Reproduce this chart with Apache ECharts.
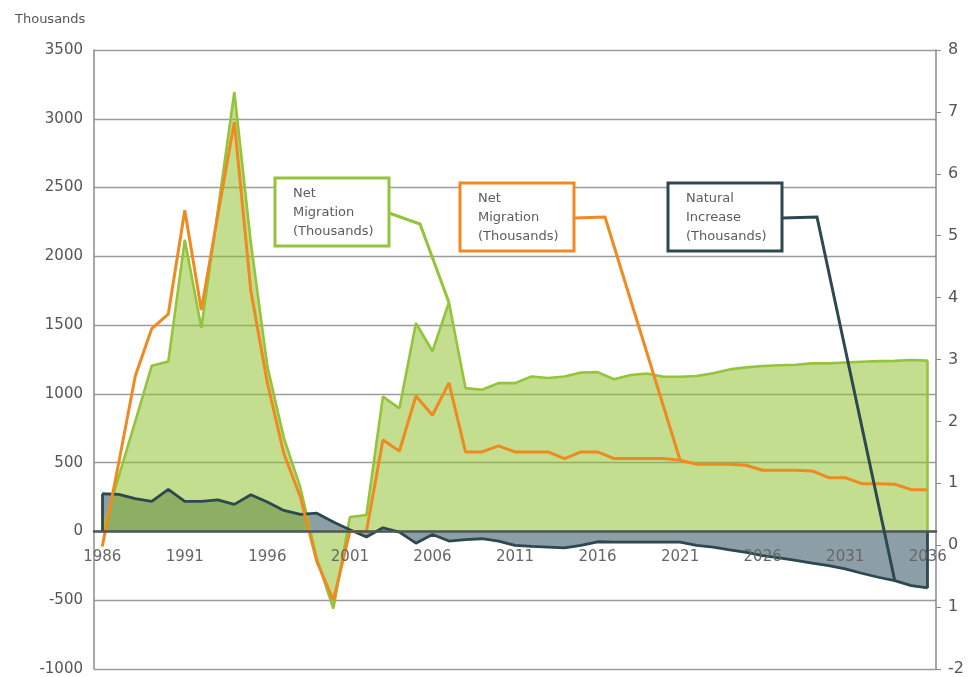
<!DOCTYPE html>
<html>
<head>
<meta charset="utf-8">
<script src="https://cdn.jsdelivr.net/npm/echarts@6/dist/echarts.min.js"></script>
<style>
  html, body { margin: 0; padding: 0; background: #fff; }
  #main { width: 969px; height: 677px; }
</style>
</head>
<body>
<div id="main"></div>
<script>
// years along the x axis
var years = [];
for (var y = 1986; y <= 2036; y++) years.push(String(y));

// net migration, thousands (green area)
var netMigrationArea = [
  0, 400, 800, 1205, 1235, 2120, 1480, 2330, 3195, 2100,
  1200, 680, 320, -200, -560, 105, 120, 980, 895, 1515,
  1310, 1665, 1042, 1030, 1078, 1078, 1127, 1115, 1127, 1155,
  1158, 1106, 1137, 1148, 1125, 1125, 1130, 1150, 1178, 1193,
  1203, 1208, 1212, 1222, 1222, 1228, 1234, 1238, 1240, 1246,
  1242
];

// net migration, thousands (orange line)
var netMigrationLine = [
  -110, 500, 1130, 1475, 1580, 2335, 1610, 2300, 2975, 1750,
  1080, 565, 250, -220, -500, 0, 0, 665, 585, 985,
  845, 1080, 578, 578, 622, 578, 578, 578, 530, 578,
  578, 530, 530, 530, 530, 518, 488, 488, 488, 481,
  445, 445, 445, 440, 391, 391, 347, 347, 343, 304,
  304
];

// natural increase, thousands (dark area)
var naturalIncrease = [
  274, 269, 238, 218, 306, 218, 218, 230, 197, 267,
  214, 153, 124, 133, 68, 12, -41, 27, -5, -85,
  -22, -70, -60, -53, -70, -102, -109, -114, -119, -102,
  -75, -78, -78, -78, -78, -78, -102, -114, -134, -153,
  -175, -192, -211, -231, -248, -272, -304, -333, -357, -394,
  -411
];

var GREEN = '#93c43a', ORANGE = '#ef8a22', DARK = '#2e4850';
var FONT = 'DejaVu Sans';
var GRID_TOP = 50, GRID_H = 619;
var LEFT_MIN = -1000, LEFT_MAX = 3500;

var chart = echarts.init(document.getElementById('main'));
var last = years.length - 1;

// x axis sits on the zero line of the left axis
var zeroOffset = -GRID_H * (0 - LEFT_MIN) / (LEFT_MAX - LEFT_MIN);

var option = {
  animation: false,
  backgroundColor: '#fff',
  title: {
    text: 'Thousands', left: 10, top: 8,
    textStyle: { fontFamily: FONT, fontSize: 13, fontWeight: 'normal', color: '#555' }
  },
  grid: { left: 94, right: 33, top: GRID_TOP, height: GRID_H, outerBoundsMode: 'none' },
  xAxis: {
    type: 'category', data: years, boundaryGap: true,
    offset: zeroOffset,
    axisLine: { onZero: false, lineStyle: { color: '#4e5858', width: 2.5 } },
    axisTick: { show: false },
    axisLabel: { interval: 4, margin: 18, color: '#666', fontFamily: FONT, fontSize: 15 },
    splitLine: { show: false },
    z: 5
  },
  yAxis: [{
    type: 'value', min: LEFT_MIN, max: LEFT_MAX, interval: 500,
    axisLine: { show: true, onZero: false, lineStyle: { color: '#8a8a8a', width: 1.5 } },
    axisTick: { show: false },
    axisLabel: {
      margin: 11, color: '#555', fontFamily: FONT, fontSize: 15,
      formatter: function (v) { return String(v); }
    },
    splitLine: { show: true, lineStyle: { color: '#9c9c9c', width: 1.4 } }
  }, {
    type: 'value', position: 'right', min: -2, max: 8, interval: 1,
    axisLine: { show: true, onZero: false, lineStyle: { color: '#8a8a8a', width: 1.5 } },
    axisTick: { show: true, length: 5, lineStyle: { color: '#8a8a8a' } },
    axisLabel: {
      margin: 12, color: '#555', fontFamily: FONT, fontSize: 16,
      formatter: function (v) { return v === -1 ? '1' : String(v); }
    },
    splitLine: { show: false }
  }],
  series: [{
    name: 'Natural Increase area',
    type: 'line', data: naturalIncrease, yAxisIndex: 0,
    symbol: 'none', z: 1,
    lineStyle: { width: 0 },
    areaStyle: { color: '#8c9ea6', opacity: 1, origin: 0 }
  }, {
    name: 'Net Migration area',
    type: 'line', data: netMigrationArea, yAxisIndex: 0,
    symbol: 'none', z: 2,
    lineStyle: { color: GREEN, width: 2.6 },
    areaStyle: { color: 'rgba(140,192,40,0.52)', opacity: 1, origin: 0 },
    markLine: {
      silent: true, symbol: 'none', label: { show: false },
      lineStyle: { color: GREEN, width: 2.6, type: 'solid' },
      data: [[{ coord: [years[last], 0] }, { coord: [years[last], netMigrationArea[last]] }]]
    }
  }, {
    name: 'Natural Increase',
    type: 'line', data: naturalIncrease, yAxisIndex: 0,
    symbol: 'none', z: 3,
    lineStyle: { color: DARK, width: 2.8 },
    markLine: {
      silent: true, symbol: 'none', label: { show: false },
      lineStyle: { color: DARK, width: 2.8, type: 'solid' },
      data: [
        [{ coord: [years[0], 0] }, { coord: [years[0], naturalIncrease[0]] }],
        [{ coord: [years[last], 0] }, { coord: [years[last], naturalIncrease[last]] }]
      ]
    }
  }, {
    name: 'Net Migration',
    type: 'line', data: netMigrationLine, yAxisIndex: 0,
    symbol: 'none', z: 4,
    lineStyle: { color: ORANGE, width: 3 }
  }]
};
chart.setOption(option);

// callout boxes with leader lines to the series
function callout(x, y, color, lines, elbow, target) {
  var p = chart.convertToPixel({ xAxisIndex: 0, yAxisIndex: 0 }, target);
  var w = 114, h = 68;
  return [{
    type: 'rect', z: 50,
    shape: { x: x, y: y, width: w, height: h },
    style: { fill: '#fff', stroke: color, lineWidth: 3 }
  }, {
    type: 'text', z: 51, x: x + 18, y: y + 6,
    style: {
      text: lines.join('\n'), fill: '#5c5c5c',
      font: '13px "' + FONT + '"', lineHeight: 19
    }
  }, {
    type: 'polyline', z: 49,
    shape: { points: [[x + w, y + h / 2 + 1], elbow, p] },
    style: { stroke: color, lineWidth: 3, fill: null }
  }];
}

var g = [];
g = g.concat(callout(275, 178, GREEN, ['Net', 'Migration', '(Thousands)'], [420, 224], [years[21], netMigrationArea[21]]));
g = g.concat(callout(460, 183, ORANGE, ['Net', 'Migration', '(Thousands)'], [605, 217], [years[35], netMigrationLine[35]]));
g = g.concat(callout(668, 183, DARK, ['Natural', 'Increase', '(Thousands)'], [817, 217], [years[48], naturalIncrease[48]]));
chart.setOption({ graphic: g });
</script>
</body>
</html>
